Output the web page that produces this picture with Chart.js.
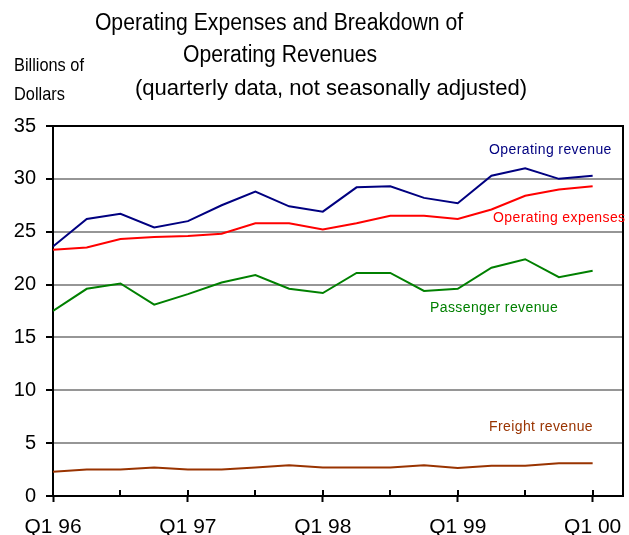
<!DOCTYPE html>
<html>
<head>
<meta charset="utf-8">
<script src="https://cdn.jsdelivr.net/npm/chart.js@4.4.0/dist/chart.umd.min.js"></script>
<style>
  html, body { margin: 0; padding: 0; background: #ffffff; }
  #wrap { width: 629px; height: 535px; position: relative; }
</style>
</head>
<body>
<div id="wrap"><canvas id="c" width="629" height="535"></canvas></div>
<script>
// Quarterly categories, Q1 1996 through Q1 2000
const quarters = [
  'Q1 96', 'Q2 96', 'Q3 96', 'Q4 96',
  'Q1 97', 'Q2 97', 'Q3 97', 'Q4 97',
  'Q1 98', 'Q2 98', 'Q3 98', 'Q4 98',
  'Q1 99', 'Q2 99', 'Q3 99', 'Q4 99',
  'Q1 00'
];

// Billions of dollars
const operatingRevenue  = [23.6, 26.2, 26.7, 25.4, 26.0, 27.5, 28.8, 27.4, 26.9, 29.2, 29.3, 28.2, 27.7, 30.3, 31.0, 30.0, 30.3];
const operatingExpenses = [23.3, 23.5, 24.3, 24.5, 24.6, 24.8, 25.8, 25.8, 25.2, 25.8, 26.5, 26.5, 26.2, 27.1, 28.4, 29.0, 29.3];
const passengerRevenue  = [17.5, 19.6, 20.1, 18.1, 19.1, 20.2, 20.9, 19.6, 19.2, 21.1, 21.1, 19.4, 19.6, 21.6, 22.4, 20.7, 21.3];
const freightRevenue    = [2.3, 2.5, 2.5, 2.7, 2.5, 2.5, 2.7, 2.9, 2.7, 2.7, 2.7, 2.9, 2.65, 2.85, 2.85, 3.1, 3.1];

const yTicks = [0, 5, 10, 15, 20, 25, 30, 35];

const titleLines = ['Operating Expenses and Breakdown of', 'Operating Revenues'];
const subtitle = '(quarterly data, not seasonally adjusted)';
const unitLines = ['Billions of', 'Dollars'];

const FONT = '"Liberation Sans", Arial, Helvetica, sans-serif';

const seriesDefs = [
  { label: 'Operating revenue',  data: operatingRevenue,  color: '#000080', tx: 489, ty: 154 },
  { label: 'Operating expenses', data: operatingExpenses, color: '#ff0000', tx: 493, ty: 222 },
  { label: 'Passenger revenue',  data: passengerRevenue,  color: '#008000', tx: 430, ty: 312 },
  { label: 'Freight revenue',    data: freightRevenue,    color: '#993300', tx: 489, ty: 431 }
];

const datasets = seriesDefs.map(s => ({
  label: s.label,
  data: s.data.map((v, i) => ({ x: i, y: v })),
  borderColor: s.color,
  backgroundColor: s.color,
  borderWidth: 2,
  pointRadius: 0,
  tension: 0,
  fill: false
}));

// text drawn with a slightly narrower horizontal scale
function drawNarrow(ctx, text, x, y, sx) {
  ctx.save();
  ctx.translate(x, y);
  ctx.scale(sx, 1);
  ctx.fillText(text, 0, 0);
  ctx.restore();
}

// Frame, inward tick marks and all free text
const decor = {
  id: 'decor',
  afterDraw(chart) {
    const { ctx, chartArea: a, scales: { x } } = chart;
    ctx.save();

    // inward tick marks every half year
    ctx.strokeStyle = '#000000';
    ctx.lineWidth = 2;
    for (let q = 0; q < quarters.length; q += 2) {
      const px = Math.round(x.getPixelForValue(q));
      ctx.beginPath();
      ctx.moveTo(px, a.bottom);
      ctx.lineTo(px, a.bottom - 6);
      ctx.stroke();
    }

    // top and right frame
    ctx.beginPath();
    ctx.moveTo(a.left, a.top);
    ctx.lineTo(a.right, a.top);
    ctx.lineTo(a.right, a.bottom);
    ctx.stroke();

    // titles
    ctx.fillStyle = '#000000';
    ctx.textAlign = 'center';
    ctx.textBaseline = 'alphabetic';
    ctx.font = '23px ' + FONT;
    drawNarrow(ctx, titleLines[0], 279, 30, 0.92);
    drawNarrow(ctx, titleLines[1], 280, 62, 0.92);
    ctx.font = '22.5px ' + FONT;
    drawNarrow(ctx, subtitle, 331, 95, 0.98);

    // unit label
    ctx.textAlign = 'left';
    ctx.font = '19px ' + FONT;
    drawNarrow(ctx, unitLines[0], 14, 71, 0.86);
    drawNarrow(ctx, unitLines[1], 14, 100, 0.86);

    // series labels
    ctx.font = '14px ' + FONT;
    ctx.letterSpacing = '0.4px';
    seriesDefs.forEach(s => {
      ctx.fillStyle = s.color;
      ctx.fillText(s.label, s.tx, s.ty);
    });
    ctx.restore();
  }
};

new Chart(document.getElementById('c'), {
  type: 'line',
  data: { datasets },
  options: {
    responsive: false,
    animation: false,
    devicePixelRatio: 1,
    layout: { padding: { top: 126, right: 6, left: 0, bottom: 0 } },
    plugins: {
      legend: { display: false },
      title: { display: false },
      tooltip: { enabled: false }
    },
    scales: {
      x: {
        type: 'linear',
        min: 0,
        max: 16.9,
        afterFit(scale) {
          scale.height = 39;
          scale.paddingLeft = 0;
          scale.paddingRight = 0;
        },
        border: { display: true, color: '#000000', width: 2 },
        grid: {
          drawOnChartArea: false,
          drawTicks: true,
          tickLength: 6,
          tickWidth: 2,
          tickColor: ctx => (ctx.tick && ctx.tick.value % 4 === 0) ? '#000000' : 'rgba(0,0,0,0)'
        },
        ticks: {
          stepSize: 2,
          includeBounds: false,
          autoSkip: false,
          maxRotation: 0,
          padding: 13,
          color: '#000000',
          font: { family: FONT, size: 21 },
          callback: v => (v % 4 === 0) ? quarters[v] : ''
        }
      },
      y: {
        min: 0,
        max: 35,
        afterFit(scale) {
          scale.width = 53;
          scale.paddingTop = 0;
          scale.paddingBottom = 0;
        },
        afterBuildTicks(scale) { scale.ticks = yTicks.map(v => ({ value: v })); },
        border: { display: true, color: '#000000', width: 2 },
        grid: {
          color: ctx => (ctx.tick && (ctx.tick.value === 0 || ctx.tick.value === 35)) ? 'rgba(0,0,0,0)' : '#969696',
          lineWidth: 2,
          tickLength: 7,
          tickWidth: 2,
          tickColor: '#000000'
        },
        ticks: {
          padding: 10,
          color: '#000000',
          font: { family: FONT, size: 20 }
        }
      }
    }
  },
  plugins: [decor]
});
</script>
</body>
</html>
